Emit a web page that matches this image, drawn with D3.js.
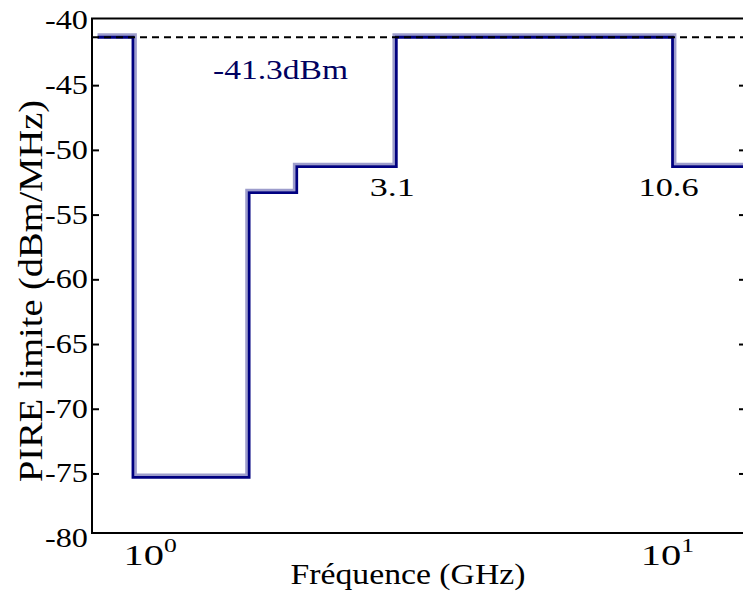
<!DOCTYPE html>
<html>
<head>
<meta charset="utf-8">
<script src="https://d3js.org/d3.v7.min.js"></script>
<style>
    body { margin: 0; background: #fff; }
    svg text { font-family: "Liberation Serif", "Times New Roman", Times, serif; fill: #000; }
</style>
</head>
<body>
<script>
//anonymous function to hold all script in a local scope
(function(){

    //band edges of the emission mask (GHz) and the level inside each band (dBm/MHz)
    var bandEdges = [0.82, 0.96, 1.61, 1.99, 3.1, 10.6, 15];
    var bandLevels = [-41.3, -75.3, -53.3, -51.3, -41.3, -51.3];
    //reference level shown as a dashed line
    var refLevel = -41.3;
    var refLabel = "-41.3dBm";
    //frequencies marked under the mask
    var edgeMarks = [3.1, 10.6];
    var edgeMarkLabels = ["3.1", "10.6"];
    //axis ticks
    var yTicks = [-40, -45, -50, -55, -60, -65, -70, -75, -80];
    var xTicks = [1, 10];
    var xTickExp = ["0", "1"];

    var width = 743,
        height = 593;

    var left = 92, right = 746, top = 18.5, bottom = 533;

    var svg = d3.select("body")
        .append("svg")
        .attr("width", width)
        .attr("height", height)
        .attr("font-family", "Liberation Serif");

    //log frequency scale and linear level scale
    var x = d3.scaleLog().domain([0.8, 14.7]).range([left, right]);
    var y = d3.scaleLinear().domain([-79.6, -39.85]).range([bottom, top]);

    //clip so the mask stops at the frame
    svg.append("clipPath").attr("id", "plotclip")
        .append("rect")
        .attr("x", left).attr("y", top)
        .attr("width", right - left).attr("height", bottom - top);

    //build step points from the band arrays
    var steps = [];
    for (var i = 0; i < bandLevels.length; i++){
        steps.push([bandEdges[i], bandLevels[i]]);
        steps.push([bandEdges[i + 1], bandLevels[i]]);
    };
    var pts = steps.map(function(d){ return [x(d[0]), y(d[1])]; });

    //shift the polyline to the left side of its direction (light halo)
    function offsetLeft(p, dist){
        var out = [];
        for (var i = 0; i < p.length; i++){
            var nx = 0, ny = 0;
            [[i - 1, i], [i, i + 1]].forEach(function(s){
                if (s[0] < 0 || s[1] >= p.length) return;
                var dx = p[s[1]][0] - p[s[0]][0], dy = p[s[1]][1] - p[s[0]][1];
                var len = Math.sqrt(dx * dx + dy * dy);
                if (len === 0) return;
                var lx = dy / len, ly = -dx / len;
                //only add a normal once if the two segments run the same way
                if (Math.abs(nx - lx) < 1e-6 && Math.abs(ny - ly) < 1e-6) return;
                nx += lx; ny += ly;
            });
            out.push([p[i][0] + nx * dist, p[i][1] + ny * dist]);
        };
        return out;
    };

    var line = d3.line();
    var plot = svg.append("g").attr("clip-path", "url(#plotclip)");

    plot.append("path")
        .attr("d", line(offsetLeft(pts, 2.6)))
        .attr("fill", "none")
        .attr("stroke", "#9d9dcc")
        .attr("stroke-width", 2.6);

    plot.append("path")
        .attr("d", line(pts))
        .attr("fill", "none")
        .attr("stroke", "#000080")
        .attr("stroke-width", 2.8);

    //dashed reference line
    plot.append("line")
        .attr("x1", left).attr("x2", right)
        .attr("y1", y(refLevel)).attr("y2", y(refLevel))
        .attr("stroke", "#000")
        .attr("stroke-width", 2)
        .attr("stroke-dasharray", "7,5");

    //frame
    svg.append("rect")
        .attr("x", left).attr("y", top)
        .attr("width", right - left).attr("height", bottom - top)
        .attr("fill", "none")
        .attr("stroke", "#000")
        .attr("stroke-width", 2);

    //y axis, inward ticks on both sides
    var yIn = yTicks.filter(function(v){ return y(v) > top + 2 && y(v) < bottom - 2; });
    svg.append("g").attr("class", "yaxis")
        .attr("transform", "translate(" + left + ",0)")
        .call(d3.axisRight(y).tickValues(yIn).tickSize(7).tickFormat(""))
        .call(function(g){ g.select(".domain").remove(); g.selectAll("line").attr("stroke-width", 2); });
    svg.append("g").attr("class", "yaxis2")
        .attr("transform", "translate(" + right + ",0)")
        .call(d3.axisLeft(y).tickValues(yIn).tickSize(7).tickFormat(""))
        .call(function(g){ g.select(".domain").remove(); g.selectAll("line").attr("stroke-width", 2); });

    svg.selectAll(".ylab")
        .data(yTicks)
        .enter()
        .append("text")
        .attr("class", "ylab")
        .attr("x", left - 4)
        .attr("y", function(d){ return y(d) + 9; })
        .attr("text-anchor", "end")
        .attr("font-size", 27)
        .attr("textLength", 43)
        .attr("lengthAdjust", "spacingAndGlyphs")
        .text(function(d){ return d; });

    //x tick labels as powers of ten
    var xl = svg.selectAll(".xlab")
        .data(xTicks)
        .enter()
        .append("g")
        .attr("class", "xlab")
        .attr("transform", function(d){ return "translate(" + (x(d) + 8) + ",565) scale(1.35,1)"; });
    xl.append("text")
        .attr("text-anchor", "middle")
        .attr("font-size", 30)
        .each(function(d, i){
            var t = d3.select(this);
            t.append("tspan").text("10");
            t.append("tspan").attr("dy", -13).attr("font-size", 19).text(xTickExp[i]);
        });

    //axis titles
    svg.append("text")
        .attr("x", 408).attr("y", 584)
        .attr("text-anchor", "middle")
        .attr("font-size", 30)
        .attr("textLength", 235)
        .attr("lengthAdjust", "spacingAndGlyphs")
        .text("Fréquence (GHz)");

    svg.append("text")
        .attr("transform", "translate(42,291) rotate(-90)")
        .attr("text-anchor", "middle")
        .attr("font-size", 34)
        .attr("textLength", 382)
        .attr("lengthAdjust", "spacingAndGlyphs")
        .text("PIRE limite (dBm/MHz)");

    //annotations
    svg.append("text")
        .attr("x", 213).attr("y", 79)
        .attr("font-size", 27)
        .attr("textLength", 135)
        .attr("lengthAdjust", "spacingAndGlyphs")
        .style("fill", "#000060")
        .text(refLabel);

    svg.selectAll(".edgelab")
        .data(edgeMarks)
        .enter()
        .append("text")
        .attr("class", "edgelab")
        .attr("x", function(d){ return x(d) - 4; })
        .attr("y", 196)
        .attr("text-anchor", "middle")
        .attr("font-size", 25)
        .attr("textLength", function(d, i){ return edgeMarkLabels[i].length * 15; })
        .attr("lengthAdjust", "spacingAndGlyphs")
        .text(function(d, i){ return edgeMarkLabels[i]; });

})(); //call anonymous function
</script>
</body>
</html>
